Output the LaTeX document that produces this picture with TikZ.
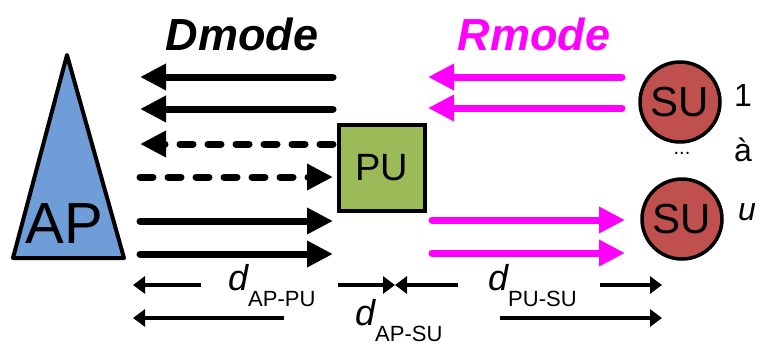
\documentclass[tikz,border=0pt]{standalone}
\usepackage{fontspec}
\setmainfont{Liberation Sans}
\usetikzlibrary{arrows.meta, positioning}
\definecolor{apblue}{RGB}{111,157,216}
\definecolor{pugreen}{RGB}{155,187,89}
\definecolor{sured}{RGB}{192,80,77}
\definecolor{rmag}{RGB}{255,0,255}
\newcommand{\dlab}[1]{{\fontsize{36}{36}\selectfont\itshape d}\raisebox{-16pt}{\fontsize{22}{22}\selectfont #1}}

\begin{document}
\begin{tikzpicture}[
    x=1pt, y=-1pt,
    arr/.style={line width=7pt, line cap=round, -{Triangle[length=26pt, width=25pt]}},
    dasharr/.style={arr, dash pattern=on 13pt off 15pt},
    distarr/.style={line width=3.5pt, -{Triangle[length=12pt, width=17pt]}},
    su/.style={circle, draw, line width=3.5pt, fill=sured, minimum size=80pt,
               inner sep=0pt, font=\fontsize{42}{42}\selectfont},
    lbl/.style={inner sep=0pt, font=\fontsize{32}{32}\selectfont},
    mode/.style={anchor=base, inner sep=0pt, font=\fontsize{45}{45}\selectfont\bfseries\itshape},
]
\useasboundingbox (0,0) rectangle (769,346);

% AP
\draw[line width=4pt, line join=round, fill=apblue] (67,55) -- (124,258) -- (13,258) -- cycle;
\node[inner sep=0pt, font=\fontsize{58}{58}\selectfont] (ap) at (64,224) {AP};

% PU and SUs
\node[draw, line width=4pt, fill=pugreen, minimum size=86pt, inner sep=0pt,
      font=\fontsize{38}{38}\selectfont] (pu) at (382,168) {PU};
\node[su] (su1) at (680,102) {SU};
\node[su] (su2) at (682,219) {SU};
\node[inner sep=0pt, font=\fontsize{20}{20}\selectfont] (dots) at (682,153) {...};
\node[lbl] (n1) at (743,95) {1};
\node[lbl] (na) at (743,150) {à};
\node[lbl, font=\fontsize{32}{32}\selectfont\itshape] (nu) at (747,212) {u};

% modes
\node[mode] (dmode) at (242,50) {Dmode};
\node[mode, text=rmag] (rmode) at (534,50) {Rmode};

% Dmode arrows
\coordinate (dl1) at (333,77);  \coordinate (dl1t) at (140,77);
\coordinate (dl2) at (333,109); \coordinate (dl2t) at (140,109);
\coordinate (dd1) at (333,144); \coordinate (dd1t) at (140,144);
\coordinate (dd2) at (140,177); \coordinate (dd2t) at (333,177);
\coordinate (dr1) at (140,221); \coordinate (dr1t) at (333,221);
\coordinate (dr2) at (140,254); \coordinate (dr2t) at (333,254);
\draw[arr] (dl1) -- (dl1t);
\draw[arr] (dl2) -- (dl2t);
\draw[dasharr] (dd1) -- (dd1t);
\draw[dasharr] (dd2) -- (dd2t);
\draw[arr] (dr1) -- (dr1t);
\draw[arr] (dr2) -- (dr2t);

% Rmode arrows
\coordinate (rl1) at (622,77);  \coordinate (rl1t) at (428,77);
\coordinate (rl2) at (622,108); \coordinate (rl2t) at (428,108);
\coordinate (rr1) at (432,220); \coordinate (rr1t) at (625,220);
\coordinate (rr2) at (432,253); \coordinate (rr2t) at (625,253);
\draw[arr, rmag] (rl1) -- (rl1t);
\draw[arr, rmag] (rl2) -- (rl2t);
\draw[arr, rmag] (rr1) -- (rr1t);
\draw[arr, rmag] (rr2) -- (rr2t);

% distances
\node[anchor=base west, inner sep=0pt] (dappu) at (228,290) {\dlab{AP-PU}};
\node[anchor=base west, inner sep=0pt] (dpusu) at (488,290) {\dlab{PU-SU}};
\node[anchor=base west, inner sep=0pt] (dapsu) at (355,325) {\dlab{AP-SU}};
\coordinate (a1) at (201,285); \coordinate (a1t) at (133,285);
\coordinate (a2) at (338,285); \coordinate (cross) at (395,285);
\coordinate (a3) at (458,285);
\coordinate (a4) at (600,285); \coordinate (a4t) at (662,285);
\coordinate (b1) at (284,318); \coordinate (b1t) at (133,318);
\coordinate (b2) at (500,318); \coordinate (b2t) at (662,318);
\draw[distarr] (a1) -- (a1t);
\draw[distarr] (a2) -- (cross);
\draw[distarr] (a3) -- (cross);
\draw[distarr] (a4) -- (a4t);
\draw[distarr] (b1) -- (b1t);
\draw[distarr] (b2) -- (b2t);
\end{tikzpicture}
\end{document}
